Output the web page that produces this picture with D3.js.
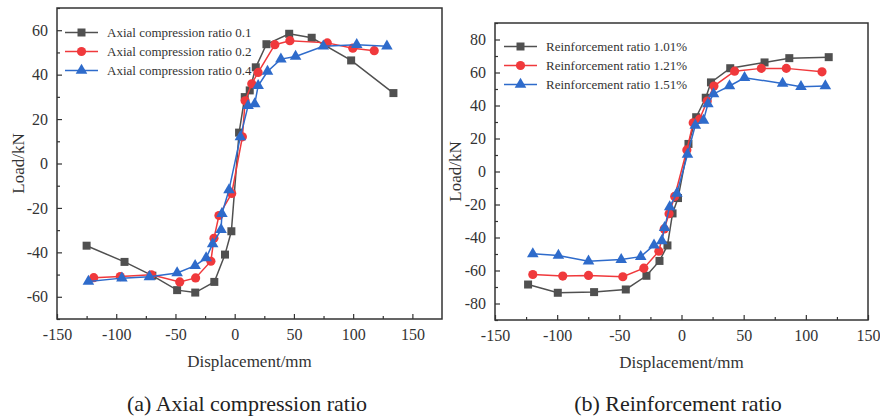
<!DOCTYPE html>
<html>
<head>
<meta charset="utf-8">
<script src="https://cdn.jsdelivr.net/npm/d3@7"></script>
<style>
  body { margin: 0; background: #fff; }
  svg, svg text { font-family: "Liberation Serif", "Times New Roman", "DejaVu Serif", serif; }
</style>
</head>
<body>
<div class="chart"></div>
<script>
var svgWidth = 880;
var svgHeight = 417;
var serif = "'Liberation Serif', 'Times New Roman', 'DejaVu Serif', serif";

// (a) axial compression ratio - skeleton curves
var axialLabels = ["Axial compression ratio 0.1", "Axial compression ratio 0.2", "Axial compression ratio 0.4"];
var axial01X = [-125, -93, -69.5, -48.6, -33.3, -17.2, -8.2, -2.8, 3.7, 8.5, 12.7, 17.8, 26.8, 46, 65, 98.3, 134];
var axial01Y = [-37, -44.3, -50.5, -57, -58.1, -53.3, -41, -30.5, 13.9, 29.9, 32.9, 43.3, 53.7, 58.4, 56.6, 46.4, 31.7];
var axial02X = [-119, -96.6, -70.3, -46.4, -33, -20.1, -17.5, -13.3, -2.5, 6.5, 8.8, 14.4, 19.8, 33.9, 46.6, 78.2, 99.7, 117.8];
var axial02Y = [-51.4, -50.9, -50.1, -53.3, -51.5, -44, -33.7, -23.4, -13.5, 12, 28.2, 35.9, 41, 53.5, 55.3, 54.3, 51.9, 50.8];
var axial04X = [-123.5, -95.2, -72, -48.6, -33.4, -24.1, -18.6, -11.5, -10.8, -4.8, 4.8, 11.3, 16.9, 19.8, 27.7, 39, 51.4, 74.8, 103, 128.5];
var axial04Y = [-53.1, -51.6, -51, -49.3, -46, -42.5, -36.2, -29.8, -22.6, -11.9, 12, 26, 26.8, 35, 41.4, 47, 48.2, 52.8, 53.5, 52.8];

// (b) reinforcement ratio - skeleton curves
var reinfLabels = ["Reinforcement ratio 1.01%", "Reinforcement ratio 1.21%", "Reinforcement ratio 1.51%"];
var reinf101X = [-123.4, -99.5, -70.3, -44.8, -28.2, -17.7, -11.3, -7.2, -2.8, 5.6, 11.8, 19.5, 23.7, 39.2, 66.8, 86.7, 118.4];
var reinf101Y = [-68.5, -73.5, -73.1, -71.5, -63.2, -54.2, -44.8, -25.4, -16.1, 16.7, 32.9, 44.7, 54, 62.6, 66.1, 68.7, 69.3];
var reinf121X = [-119.6, -95.5, -74.8, -47.2, -30.3, -18.2, -13.9, -10, -5.5, 4.3, 9.4, 14.5, 20.7, 26.1, 42.7, 64.2, 84.3, 113];
var reinf121Y = [-62.4, -63.4, -63, -63.8, -58.6, -48.3, -34.8, -25.6, -15.1, 13.1, 29.5, 31.7, 42.7, 51.8, 60.8, 62.5, 62.5, 60.4];
var reinf151X = [-119.6, -99, -74.8, -48.5, -32.8, -22.1, -15.8, -13.6, -9.5, -3.7, 4.8, 11.1, 17.7, 21.2, 25.8, 38.6, 50.7, 81.3, 96.1, 115.7];
var reinf151Y = [-49.9, -50.9, -54.4, -53.4, -51.6, -44.6, -42, -34, -21.4, -13.3, 10.3, 28, 31, 40.9, 47, 51.8, 56.8, 53.4, 51.4, 51.8];

// tick values
var xTicks = [-150, -100, -50, 0, 50, 100, 150];
var xMinorTicks = [-125, -75, -25, 25, 75, 125];
var yTicksA = [-60, -40, -20, 0, 20, 40, 60];
var yMinorA = [-70, -50, -30, -10, 10, 30, 50, 70];
var yTicksB = [-80, -60, -40, -20, 0, 20, 40, 60, 80];
var yMinorB = [-90, -70, -50, -30, -10, 10, 30, 50, 70, 90];

var colors = ["#505050", "#F0393C", "#2E6BCB"];
var symbols = [d3.symbolSquare, d3.symbolCircle, d3.symbolTriangle];
var symbolSizes = [64, 66, 58];

function zip(xs, ys) {
    return xs.map(function (x, i) { return { x: x, y: ys[i] }; });
}

var svg = d3.select(".chart")
    .append("svg")
    .attr("width", svgWidth)
    .attr("height", svgHeight)
    .attr("font-family", serif);

function drawPanel(p) {
    var xScale = d3.scaleLinear().domain(p.xDomain).range([p.left, p.right]);
    var yScale = d3.scaleLinear().domain(p.yDomain).range([p.bottom, p.top]);
    var g = svg.append("g");

    // inward ticks, major and minor
    var xAxis = d3.axisBottom(xScale).tickValues(xTicks).tickSize(-5).tickPadding(10)
        .tickFormat(function (d) { return String(d); });
    var xMinor = d3.axisBottom(xScale).tickValues(xMinorTicks).tickSize(-3).tickFormat("");
    var yAxis = d3.axisLeft(yScale).tickValues(p.yTicks).tickSize(-5).tickPadding(9)
        .tickFormat(function (d) { return String(d); });
    var yMinor = d3.axisLeft(yScale).tickValues(p.yMinor).tickSize(-3).tickFormat("");

    [xAxis, xMinor].forEach(function (ax) {
        g.append("g")
            .attr("transform", `translate(0,${p.bottom})`)
            .call(ax)
            .call(function (s) { s.select(".domain").remove(); });
    });
    [yAxis, yMinor].forEach(function (ax) {
        g.append("g")
            .attr("transform", `translate(${p.left},0)`)
            .call(ax)
            .call(function (s) { s.select(".domain").remove(); });
    });
    // d3 puts sans-serif on the axis groups, swap it back
    g.selectAll("g").attr("font-family", serif).attr("font-size", 16);
    g.selectAll(".tick line").attr("stroke", "#333").attr("stroke-width", 1.2);
    g.selectAll(".tick text").attr("fill", "#333");

    // frame
    g.append("rect")
        .attr("x", p.left)
        .attr("y", p.top)
        .attr("width", p.right - p.left)
        .attr("height", p.bottom - p.top)
        .attr("fill", "none")
        .attr("stroke", "#333")
        .attr("stroke-width", 1.5);

    // lines and markers
    var line = d3.line()
        .x(function (d) { return xScale(d.x); })
        .y(function (d) { return yScale(d.y); });

    p.series.forEach(function (s, i) {
        g.append("path")
            .datum(s)
            .attr("fill", "none")
            .attr("stroke", colors[i])
            .attr("stroke-width", 1.5)
            .attr("d", line);
        g.selectAll(".pt" + i)
            .data(s)
            .enter()
            .append("path")
            .attr("class", "pt" + i)
            .attr("d", d3.symbol().type(symbols[i]).size(symbolSizes[i]))
            .attr("transform", function (d) { return `translate(${xScale(d.x)},${yScale(d.y)})`; })
            .attr("fill", colors[i]);
    });

    // legend
    p.labels.forEach(function (lab, i) {
        var ly = p.legendY + i * 19;
        g.append("line")
            .attr("x1", p.legendX).attr("x2", p.legendX + 33)
            .attr("y1", ly).attr("y2", ly)
            .attr("stroke", colors[i]).attr("stroke-width", 1.5);
        g.append("path")
            .attr("d", d3.symbol().type(symbols[i]).size(symbolSizes[i]))
            .attr("transform", `translate(${p.legendX + 16.5},${ly})`)
            .attr("fill", colors[i]);
        g.append("text")
            .attr("x", p.legendX + 42)
            .attr("y", ly + 4.5)
            .attr("font-size", "13px")
            .attr("fill", "#333")
            .text(lab);
    });

    // axis titles
    g.append("text")
        .attr("x", (p.left + p.right) / 2)
        .attr("y", p.bottom + 48)
        .attr("text-anchor", "middle")
        .attr("font-size", "17px")
        .attr("fill", "#333")
        .text("Displacement/mm");

    g.append("text")
        .attr("transform", `translate(${p.yTitleX},${(p.top + p.bottom) / 2})rotate(-90)`)
        .attr("text-anchor", "middle")
        .attr("font-size", "17px")
        .attr("fill", "#333")
        .text("Load/kN");

    // caption
    g.append("text")
        .attr("x", p.captionX)
        .attr("y", 411)
        .attr("text-anchor", "middle")
        .attr("font-size", "22px")
        .attr("fill", "#222")
        .text(p.caption);
}

drawPanel({
    left: 57, right: 442, top: 8, bottom: 319,
    xDomain: [-150, 175], yDomain: [-70, 70],
    yTicks: yTicksA, yMinor: yMinorA,
    series: [zip(axial01X, axial01Y), zip(axial02X, axial02Y), zip(axial04X, axial04Y)],
    labels: axialLabels,
    legendX: 65, legendY: 32.5,
    yTitleX: 24,
    caption: "(a) Axial compression ratio", captionX: 247
});

drawPanel({
    left: 495, right: 868, top: 23, bottom: 320,
    xDomain: [-150, 150], yDomain: [-90, 90],
    yTicks: yTicksB, yMinor: yMinorB,
    series: [zip(reinf101X, reinf101Y), zip(reinf121X, reinf121Y), zip(reinf151X, reinf151Y)],
    labels: reinfLabels,
    legendX: 504, legendY: 46.5,
    yTitleX: 461,
    caption: "(b) Reinforcement ratio", captionX: 678
});
</script>
</body>
</html>
